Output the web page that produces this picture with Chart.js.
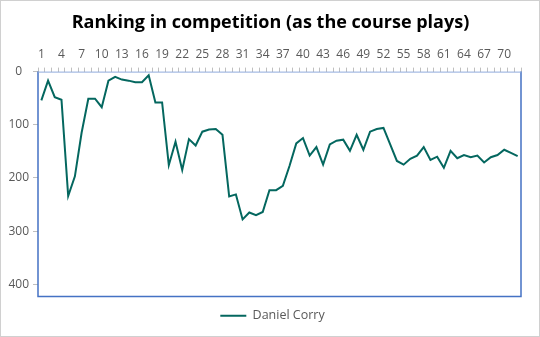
<!DOCTYPE html>
<html>
<head>
<meta charset="utf-8">
<script src="https://cdn.jsdelivr.net/npm/chart.js@4"></script>
<style>
  html, body { margin: 0; padding: 0; background: #fff; }
  #wrap { width: 540px; height: 337px; position: relative; }
</style>
</head>
<body>
<div id="wrap"><canvas id="rankChart"></canvas></div>
<script>
// rounds played (x categories) and ranking after each round
const rounds = [
  1, 2, 3, 4, 5, 6, 7, 8, 9, 10, 11, 12, 13, 14, 15, 16, 17, 18,
  19, 20, 21, 22, 23, 24, 25, 26, 27, 28, 29, 30, 31, 32, 33, 34, 35, 36,
  37, 38, 39, 40, 41, 42, 43, 44, 45, 46, 47, 48, 49, 50, 51, 52, 53, 54,
  55, 56, 57, 58, 59, 60, 61, 62, 63, 64, 65, 66, 67, 68, 69, 70, 71, 72
];
const corryRank = [
  54, 17, 48, 53, 234, 197, 115, 51, 51, 67, 17, 10, 15, 17, 20, 20, 7, 58,
  58, 176, 132, 185, 127, 139, 113, 109, 108, 119, 235, 231, 278, 265, 270, 264, 223, 223,
  215, 177, 135, 125, 158, 142, 175, 137, 130, 128, 149, 119, 147, 113, 108, 106, 137, 168,
  175, 164, 158, 142, 166, 160, 181, 149, 163, 157, 161, 158, 171, 161, 157, 147, 153, 159
];
const yTicks = [0, 100, 200, 300, 400];
const yMax = 423;

const textColor = '#595959';
const tickLineColor = '#bfbfbf';
const fontFamily = "'Open Sans', 'Noto Sans', sans-serif";

// white background, outer frame and plot-area border
const framePlugin = {
  id: 'frame',
  afterLayout(chart) {
    // title and legend are centred on the whole canvas, not the padded box
    const tb = chart.titleBlock;
    if (tb) {
      tb.left += 10;
      tb.right += 10;
    }
    const lg = chart.legend;
    if (lg) {
      lg.left += 12;
      lg.right += 12;
      lg.top += 3;
      lg.bottom += 3;
    }
  },
  beforeDraw(chart) {
    const ctx = chart.ctx;
    ctx.save();
    ctx.fillStyle = '#ffffff';
    ctx.fillRect(0, 0, chart.width, chart.height);
    ctx.restore();
  },
  afterDraw(chart) {
    const { ctx, chartArea: a } = chart;
    ctx.save();
    ctx.strokeStyle = '#d0d0d0';
    ctx.lineWidth = 1;
    ctx.strokeRect(0.5, 0.5, chart.width - 1, chart.height - 1);
    ctx.strokeStyle = '#4472c4';
    ctx.lineWidth = 1.5;
    ctx.beginPath();
    ctx.moveTo(a.left, a.top);
    ctx.lineTo(a.left, a.bottom);
    ctx.lineTo(a.right, a.bottom);
    ctx.lineTo(a.right, a.top);
    ctx.stroke();
    ctx.strokeStyle = '#8faadc';
    ctx.lineWidth = 1;
    ctx.beginPath();
    ctx.moveTo(a.left, a.top + 0.5);
    ctx.lineTo(a.right, a.top + 0.5);
    ctx.stroke();
    ctx.restore();
  }
};

new Chart(document.getElementById('rankChart'), {
  type: 'line',
  data: {
    labels: rounds,
    datasets: [{
      label: 'Daniel Corry',
      data: corryRank,
      borderColor: '#04675f',
      backgroundColor: '#04675f',
      borderWidth: 2,
      pointRadius: 0,
      pointHoverRadius: 0,
      tension: 0,
      fill: false
    }]
  },
  options: {
    responsive: true,
    maintainAspectRatio: false,
    animation: false,
    layout: { padding: { left: 0, right: 19, top: 0, bottom: 8 } },
    plugins: {
      title: {
        display: true,
        text: 'Ranking in competition (as the course plays)',
        color: '#000000',
        font: { family: fontFamily, size: 18, weight: 'bold' },
        padding: { top: 12, bottom: 7 }
      },
      legend: {
        position: 'bottom',
        labels: {
          color: textColor,
          font: { family: fontFamily, size: 12.5 },
          usePointStyle: true,
          pointStyle: 'line',
          pointStyleWidth: 26,
          padding: 10
        }
      },
      tooltip: { enabled: false }
    },
    scales: {
      x: {
        type: 'category',
        position: 'top',
        offset: true,
        afterFit(scale) { scale.height = 31; },
        grid: {
          offset: true,
          drawOnChartArea: false,
          drawTicks: true,
          tickLength: 4,
          color: tickLineColor
        },
        border: { display: false },
        ticks: {
          autoSkip: false,
          maxRotation: 0,
          color: textColor,
          padding: 6,
          font: { family: fontFamily, size: 12 },
          callback(value, index) {
            return index % 3 === 0 ? this.getLabelForValue(value) : '';
          }
        }
      },
      y: {
        reverse: true,
        min: 0,
        max: yMax,
        afterFit(scale) { scale.width = 38; },
        afterBuildTicks(scale) {
          scale.ticks = yTicks.map(v => ({ value: v }));
        },
        grid: {
          drawOnChartArea: false,
          drawTicks: true,
          tickLength: 5,
          color: tickLineColor
        },
        border: { display: false },
        ticks: {
          color: textColor,
          crossAlign: 'center',
          padding: 4,
          font: { family: fontFamily, size: 12 }
        }
      }
    }
  },
  plugins: [framePlugin]
});
</script>
</body>
</html>
